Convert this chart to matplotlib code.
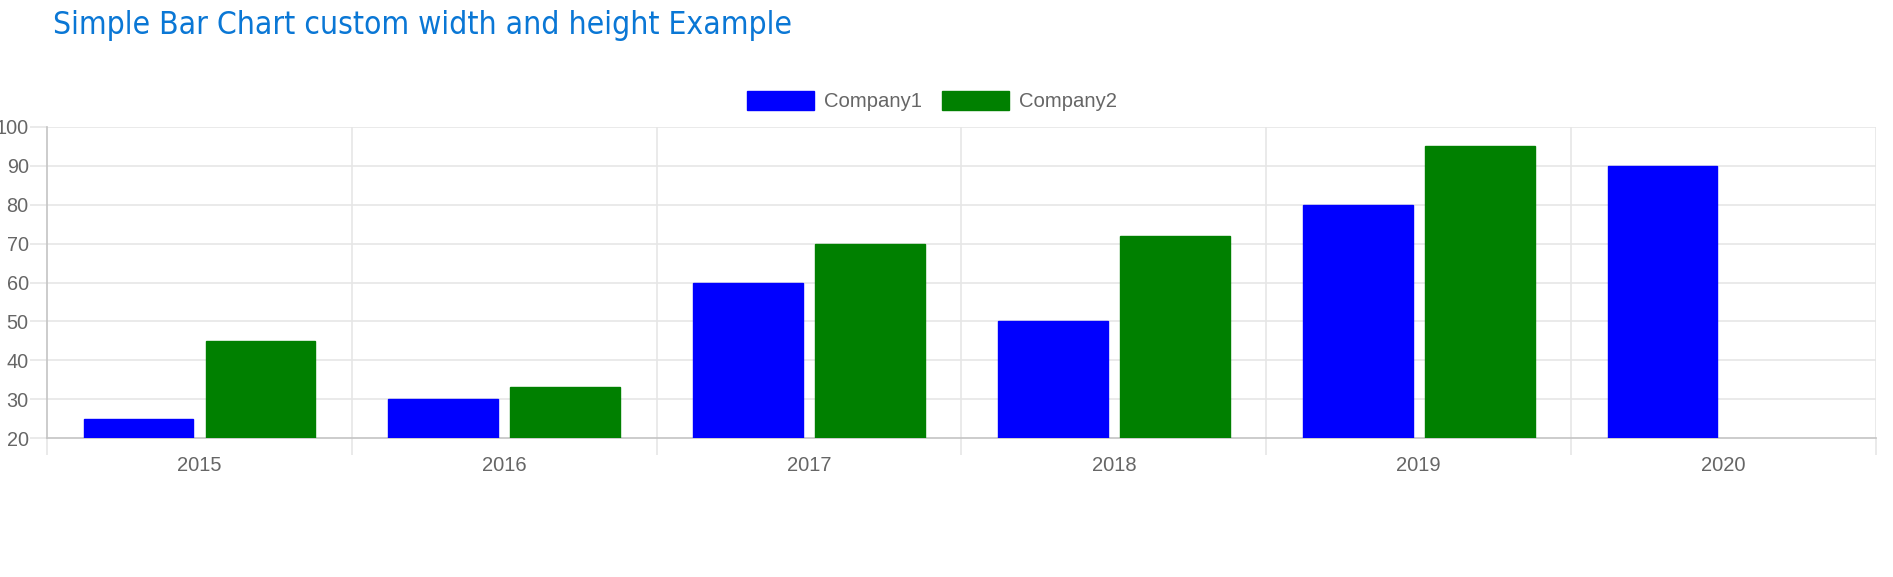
import matplotlib
matplotlib.use("Agg")
import matplotlib.pyplot as plt
import numpy as np

categories = ["2015", "2016", "2017", "2018", "2019", "2020"]
company1 = [25, 30, 60, 50, 80, 90]
company2 = [45, 33, 70, 72, 95, np.nan]
series_names = ["Company1", "Company2"]
series_colors = ["#0000ff", "#008000"]
y_ticks = [20, 30, 40, 50, 60, 70, 80, 90, 100]

W, H = 1893, 577
fig = plt.figure(figsize=(W / 100, H / 100), dpi=100)
L, R, T, B = 47, 1876, 127, 438
ax = fig.add_axes([L / W, 1 - B / H, (R - L) / W, (B - T) / H])

x = np.arange(len(categories))
slot = 0.4
bw = 0.36
for i, (vals, name, col) in enumerate(zip([company1, company2], series_names, series_colors)):
    ax.bar(x + (i - 0.5) * slot, vals, width=bw, bottom=0, color=col, label=name,
           edgecolor=col, linewidth=1, zorder=3)

ax.set_xlim(-0.5, len(categories) - 0.5)
ax.set_ylim(20, 100)
ax.set_yticks(y_ticks)
ax.set_yticklabels([str(v) for v in y_ticks])
ax.set_xticks(x)
ax.set_xticklabels(categories)
ax.set_xticks(np.arange(-0.5, len(categories)), minor=True)

grid_c = "#e6e6e6"
ax.grid(False)
for yv in y_ticks[1:]:
    ax.axhline(yv, color=grid_c, lw=1.2, zorder=1)
for xv in np.arange(0.5, len(categories) - 0.5):
    ax.axvline(xv, color=grid_c, lw=1.2, zorder=1)
ax.axvline(len(categories) - 0.5, color=grid_c, lw=1.2, zorder=1)

for s in ["top", "right"]:
    ax.spines[s].set_visible(False)
ax.spines["left"].set_color("#c4c4c4")
ax.spines["bottom"].set_color("#c4c4c4")
ax.spines["left"].set_linewidth(1.2)
ax.spines["bottom"].set_linewidth(1.2)

font = "Liberation Sans"
ax.tick_params(axis="y", which="major", length=12.2, color=grid_c, width=1.2,
               labelsize=14.3, labelcolor="#666666", pad=1)
ax.tick_params(axis="x", which="major", length=0, labelsize=14.5, labelcolor="#666666", pad=13)
ax.tick_params(axis="x", which="minor", length=12.2, color=grid_c, width=1.2)
for lab in ax.get_xticklabels() + ax.get_yticklabels():
    lab.set_fontfamily(font)

leg = fig.legend(loc="center", bbox_to_anchor=(932 / W, 1 - 101 / H), ncol=2, frameon=False,
                 prop={"family": font, "size": 14.6}, handlelength=3.3, handleheight=1.05,
                 handletextpad=0.5, columnspacing=1.0)
for t in leg.get_texts():
    t.set_color("#666666")

fig.text(53 / W, 1 - 34 / H, "Simple Bar Chart custom width and height Example",
         fontsize=22.8, color="#0a77d5", family="DejaVu Sans", va="baseline", ha="left",
         fontstretch="condensed")

fig.savefig("out.png", dpi=100)
